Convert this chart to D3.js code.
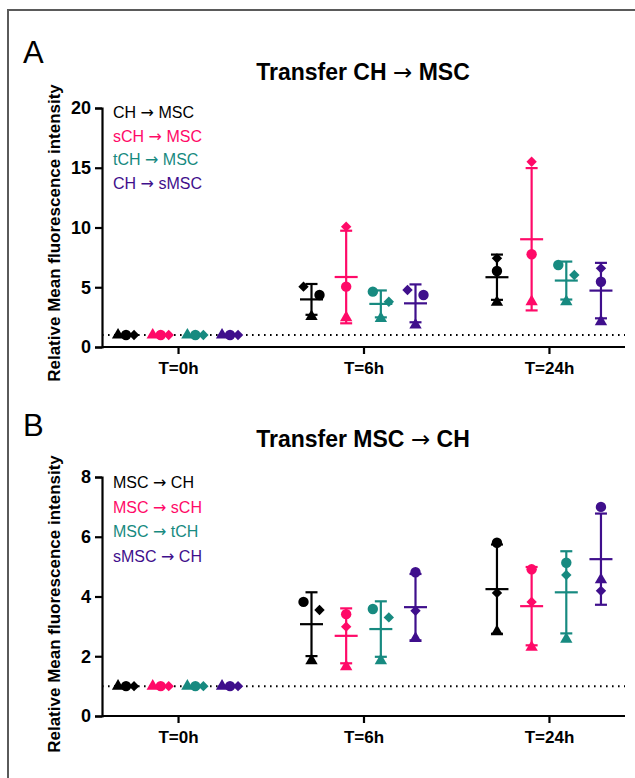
<!DOCTYPE html>
<html>
<head>
<meta charset="utf-8">
<script src="https://cdn.jsdelivr.net/npm/d3@7"></script>
<style>
  body { margin: 0; background: #fff; }
  svg { display: block; font-family: "Liberation Sans", Arial, sans-serif; }
</style>
</head>
<body>
<script>
// categories
const timepoints = ["T=0h", "T=6h", "T=24h"];
const seriesA = ["CH → MSC", "sCH → MSC", "tCH → MSC", "CH → sMSC"];
const seriesB = ["MSC → CH", "MSC → sCH", "MSC → tCH", "sMSC → CH"];
// replicate markers: triangle, circle, diamond
const replicates = ["triangle", "circle", "diamond"];

// panel A values [series][timepoint][replicate]
const valuesA = [
  [[1, 1, 1], [2.55, 4.35, 5.05], [3.74, 6.36, 7.42]],
  [[1, 1, 1], [2.45, 5.05, 10.07], [3.79, 7.76, 15.5]],
  [[1, 1, 1], [2.40, 4.63, 3.79], [3.79, 6.86, 6.03]],
  [[1, 1, 1], [1.84, 4.35, 4.77], [2.12, 5.46, 6.58]]
];
// panel B values
const valuesB = [
  [[1, 1, 1], [1.85, 3.82, 3.55], [2.82, 5.80, 4.12]],
  [[1, 1, 1], [1.65, 3.41, 2.99], [2.30, 4.91, 3.82]],
  [[1, 1, 1], [1.85, 3.58, 3.30], [2.57, 5.13, 4.72]],
  [[1, 1, 1], [2.60, 4.81, 3.52], [4.56, 7.00, 4.19]]
];
const ticksA = [0, 5, 10, 15, 20];
const ticksB = [0, 2, 4, 6, 8];

const colors = ["#000000", "#ff0a68", "#178a80", "#3f0f8c"];

document.addEventListener("DOMContentLoaded", function() {
    const width = 635, height = 778;
    const svg = d3.select("body").append("svg")
        .attr("width", width)
        .attr("height", height);

    // frame
    svg.append("line").attr("x1", 7).attr("x2", 635).attr("y1", 10).attr("y2", 10)
        .attr("stroke", "#5a5a5a").attr("stroke-width", 2);
    svg.append("line").attr("x1", 8).attr("x2", 8).attr("y1", 10).attr("y2", 778)
        .attr("stroke", "#5a5a5a").attr("stroke-width", 2);

    // the arrow glyph in Liberation Sans is tiny, borrow DejaVu's
    function arrowText(sel, str) {
        str.split("→").forEach((part, i) => {
            if (i > 0) sel.append("tspan").attr("font-family", "DejaVu Sans")
                .attr("font-weight", "normal").text("→");
            sel.append("tspan").text(part);
        });
        return sel;
    }

    drawPanel({letter: "A", letterY: 63, title: "Transfer CH → MSC", titleY: 80,
        top: 108, bottom: 347, ticks: ticksA, series: seriesA, values: valuesA,
        legendY: 118, legendStep: 23.5, labelY: 233});
    drawPanel({letter: "B", letterY: 436, title: "Transfer MSC → CH", titleY: 447,
        top: 477, bottom: 716, ticks: ticksB, series: seriesB, values: valuesB,
        legendY: 488, legendStep: 24.5, labelY: 604});

    function drawPanel(cfg) {
        const g = svg.append("g");
        const left = 102, right = 625;

        const x = d3.scalePoint().domain(timepoints).range([left, right]).padding(0.41);
        const xs = d3.scalePoint().domain(cfg.series).range([-52, 52]);
        const y = d3.scaleLinear().domain([0, d3.max(cfg.ticks)]).range([cfg.bottom, cfg.top]);

        g.append("text").attr("x", 23).attr("y", cfg.letterY)
            .attr("font-size", 31).text(cfg.letter);
        arrowText(g.append("text").attr("x", 363).attr("y", cfg.titleY)
            .attr("text-anchor", "middle").attr("font-size", 23).attr("font-weight", "bold"),
            cfg.title);

        // baseline at 1
        g.append("line").attr("x1", left).attr("x2", right)
            .attr("y1", y(1)).attr("y2", y(1))
            .attr("stroke", "#000").attr("stroke-width", 2)
            .attr("stroke-dasharray", "1.6,4.4");

        // axes
        const yAxis = g.append("g").attr("transform", `translate(${left},0)`)
            .call(d3.axisLeft(y).tickValues(cfg.ticks).tickSize(7).tickPadding(4));
        const xAxis = g.append("g").attr("transform", `translate(0,${cfg.bottom})`)
            .call(d3.axisBottom(x).tickSize(7).tickPadding(8));
        xAxis.select(".domain").attr("d", `M${left},0H${right}`);
        [yAxis, xAxis].forEach(a => {
            a.select(".domain").attr("stroke-width", 2.2);
            a.selectAll(".tick line").attr("stroke-width", 2.2);
            a.selectAll("text").attr("font-size", 18).attr("font-weight", "bold")
                .attr("font-family", "Liberation Sans, Arial, sans-serif").attr("fill", "#000");
        });
        xAxis.selectAll("text").attr("font-size", 17);

        g.append("text")
            .attr("transform", `translate(60,${cfg.labelY}) rotate(-90)`)
            .attr("text-anchor", "middle").attr("font-size", 17).attr("font-weight", "bold")
            .text("Relative Mean fluorescence intensity");

        // legend
        cfg.series.forEach((s, i) => {
            arrowText(g.append("text").attr("x", 113).attr("y", cfg.legendY + i * cfg.legendStep)
                .attr("font-size", 16).attr("fill", colors[i]), s);
        });

        const symbols = {
            triangle: d3.symbol().type(d3.symbolTriangle).size(66)(),
            circle: d3.symbol().type(d3.symbolCircle).size(85)(),
            diamond: d3.symbol().type(d3.symbolSquare).size(54)()
        };

        cfg.series.forEach((s, si) => {
            timepoints.forEach((t, ti) => {
                const vals = cfg.values[si][ti];
                const cx = x(t) + xs(s);
                const m = d3.mean(vals), sd = d3.deviation(vals);
                const col = colors[si];
                const eb = g.append("g").attr("stroke", col).attr("stroke-width", 2.2);
                eb.append("line").attr("x1", cx).attr("x2", cx).attr("y1", y(m + sd)).attr("y2", y(m - sd));
                eb.append("line").attr("x1", cx - 6).attr("x2", cx + 6).attr("y1", y(m + sd)).attr("y2", y(m + sd));
                eb.append("line").attr("x1", cx - 6).attr("x2", cx + 6).attr("y1", y(m - sd)).attr("y2", y(m - sd));
                eb.append("line").attr("x1", cx - 11.5).attr("x2", cx + 11.5).attr("y1", y(m)).attr("y2", y(m));

                // spread overlapping points sideways
                const pts = vals.map((v, ri) => ({v, ri, py: y(v)}));
                const sorted = pts.slice().sort((a, b) => a.py - b.py);
                const clusters = [];
                sorted.forEach(p => {
                    const last = clusters[clusters.length - 1];
                    if (last && p.py - last[last.length - 1].py < 10.5) last.push(p);
                    else clusters.push([p]);
                });
                clusters.forEach(c => {
                    const slots = c.length === 1 ? [0] : c.length === 2 ? [-1, 1] : [-1, 0, 1];
                    c.forEach((p, k) => { p.dx = slots[k] * 8; });
                });
                pts.forEach(p => {
                    const rep = replicates[p.ri];
                    g.append("path").attr("d", symbols[rep])
                        .attr("transform", `translate(${cx + p.dx},${p.py})` + (rep === "diamond" ? " rotate(45)" : ""))
                        .attr("fill", col);
                });
            });
        });
    }
});
</script>
</body>
</html>
